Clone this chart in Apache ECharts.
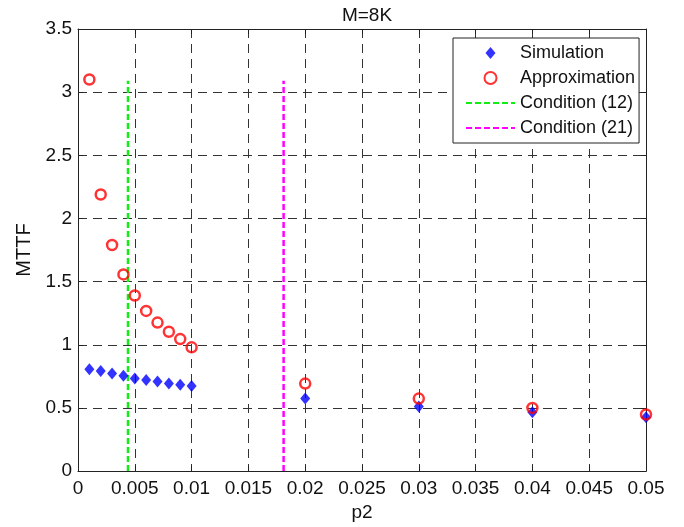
<!DOCTYPE html>
<html>
<head>
<meta charset="utf-8">
<script src="https://cdn.jsdelivr.net/npm/echarts@6/dist/echarts.min.js"></script>
<style>html,body{margin:0;padding:0;background:#fff}#c{width:684px;height:527px}</style>
</head>
<body>
<div id="c"></div>
<script>
var titleText = 'M=8K';
var xName = 'p2';
var yName = 'MTTF';
var p2Values = [0.001,0.002,0.003,0.004,0.005,0.006,0.007,0.008,0.009,0.010,0.02,0.03,0.04,0.05];
var simulation = [0.806,0.793,0.772,0.754,0.733,0.722,0.709,0.693,0.683,0.673,0.574,0.511,0.466,0.427];
var approximation = [3.10,2.19,1.79,1.557,1.39,1.268,1.176,1.103,1.045,0.98,0.693,0.574,0.50,0.448];
var cond12X = 0.0044;
var cond21X = 0.0181;
var condTop = 3.09;
var seriesNames = ['Simulation','Approximation','Condition (12)','Condition (21)'];

function pairs(xs, ys){ return xs.map(function(x,i){return [x, ys[i]];}); }

var FONT = 'Liberation Sans, Arial, sans-serif';
var chart = echarts.init(document.getElementById('c'));
var grid = {left:78, right:38, top:29, bottom:51, show:false};
var gridLine = {show:true, lineStyle:{color:'#333', width:1, type:[9,6]}};
var frameLine = {show:true, onZero:false, lineStyle:{color:'#222', width:1}};
var tick = {show:true, inside:true, length:5, lineStyle:{color:'#222'}};
var label = {color:'#111', fontSize:19, fontFamily:FONT};
var diamondPath = 'path://M0,-6L5,0L0,6L-5,0Z';
var hidden = {color:'rgba(0,0,0,0)', borderColor:'rgba(0,0,0,0)', borderWidth:0};

chart.setOption({
  animation:false,
  backgroundColor:'#fff',
  title:{text:titleText, left:362, textAlign:'center', top:1, textStyle:{fontSize:19, fontWeight:'normal', color:'#111', fontFamily:FONT}},
  grid:grid,
  legend:{
    orient:'vertical', left:453, top:38,
    data:[
      {name:seriesNames[0], icon:diamondPath},
      {name:seriesNames[1]},
      {name:seriesNames[2], itemStyle:hidden},
      {name:seriesNames[3], itemStyle:hidden}
    ],
    backgroundColor:'#fff', borderColor:'#222', borderWidth:1,
    padding:[5,4,5,12],
    itemWidth:49, itemHeight:12, itemGap:5,
    textStyle:{fontSize:18, color:'#111', fontFamily:FONT, lineHeight:20},
    symbolKeepAspect:true
  },
  xAxis:[
    {type:'value', min:0, max:0.05, interval:0.005, position:'bottom',
     name:xName, nameLocation:'middle', nameGap:31, nameTextStyle:{fontSize:19, color:'#111', fontFamily:FONT},
     axisLine:frameLine, axisTick:tick, splitLine:gridLine, axisLabel:Object.assign({margin:8}, label)},
    {type:'value', min:0, max:0.05, interval:0.005, position:'top',
     axisLine:frameLine, axisTick:tick, splitLine:{show:false}, axisLabel:{show:false}}
  ],
  yAxis:[
    {type:'value', min:0, max:3.5, interval:0.5, position:'left',
     name:yName, nameLocation:'middle', nameGap:41, nameTextStyle:{fontSize:20, color:'#111', fontFamily:FONT},
     axisLine:frameLine, axisTick:tick, splitLine:gridLine, axisLabel:Object.assign({margin:6}, label)},
    {type:'value', min:0, max:3.5, interval:0.5, position:'right',
     axisLine:frameLine, axisTick:tick, splitLine:{show:false}, axisLabel:{show:false}}
  ],
  series:[
    {name:seriesNames[0], type:'scatter', data:pairs(p2Values, simulation),
     symbol:'diamond', symbolSize:[10,12], itemStyle:{color:'#0000ff'}, z:3},
    {name:seriesNames[1], type:'scatter', data:pairs(p2Values, approximation),
     symbol:'circle', symbolSize:10, itemStyle:{color:'rgba(0,0,0,0)', borderColor:'#ff0000', borderWidth:2.5}, z:4},
    {name:seriesNames[2], type:'line', data:[[cond12X,0],[cond12X,condTop]],
     symbol:'none', lineStyle:{color:'#11ee11', width:2.5, type:[6,3]}, itemStyle:{color:'#11ee11'}, z:2},
    {name:seriesNames[3], type:'line', data:[[cond21X,0],[cond21X,condTop]],
     symbol:'none', lineStyle:{color:'#ff00ff', width:2.5, type:[6,3]}, itemStyle:{color:'#ff00ff'}, z:2}
  ]
});
</script>
</body>
</html>
